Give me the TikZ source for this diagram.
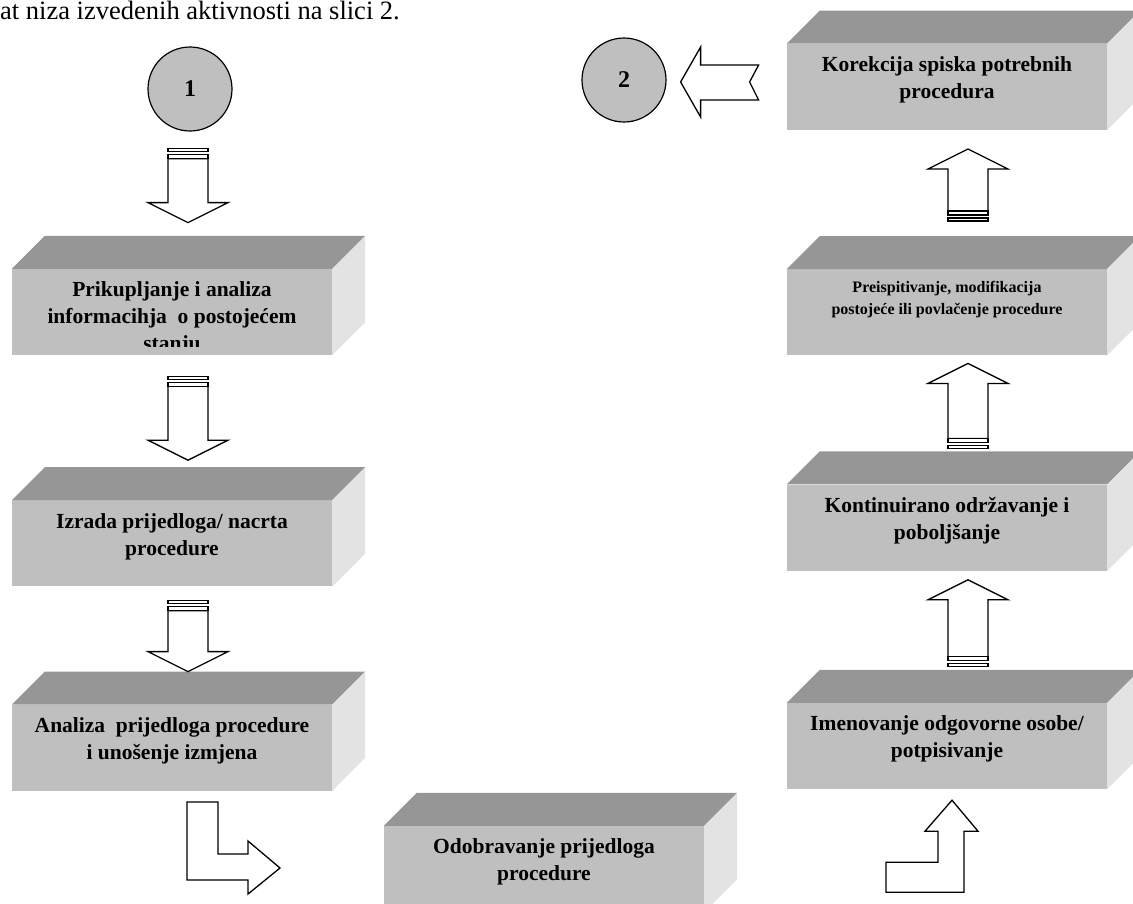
\documentclass[tikz,border=0pt]{standalone}
\usepackage{fontspec}
\setmainfont{Liberation Serif}
\usetikzlibrary{positioning,calc}

\tikzset{
  procbox/.style={rectangle, fill=black!25, minimum width=320pt, minimum height=86pt, inner sep=0pt},
  boxtext/.style={font=\fontsize{21.5}{27}\selectfont\bfseries, align=center, inner sep=0pt},
  smalltext/.style={font=\fontsize{16}{22}\selectfont\bfseries, align=center, inner sep=0pt},
  topface/.style={fill=black!41},
  sideface/.style={fill=black!11},
  stepcircle/.style={circle, draw=black, line width=1.2pt, fill=black!25, minimum size=84pt, inner sep=0pt, font=\fontsize{24}{28}\selectfont\bfseries},
  blockarrow/.style={draw=black, line width=1.3pt, fill=white},
  pics/dnarrow/.style={code={
    \draw[blockarrow] (0,0) -- (-40,-20) -- (-20,-20) -- (-20,{-#1+10}) -- (20,{-#1+10}) -- (20,-20) -- (40,-20) -- cycle;
    \draw[blockarrow] (-20,{-#1}) rectangle (20,{-#1+3});
    \draw[blockarrow] (-20,{-#1+6}) rectangle (20,{-#1+10});
  }},
  pics/bentright/.style={code={
    \draw[blockarrow] (0,0) -- (31,0) -- (31,52) -- (61,52) -- (61,39) -- (93,66) -- (61,92) -- (61,78) -- (0,78) -- cycle;
  }},
  pics/bentup/.style={code={
    \draw[blockarrow] (0,0) -- (26,31) -- (12,31) -- (12,92) -- (-66,92) -- (-66,62) -- (-14,62) -- (-14,31) -- (-27,31) -- cycle;
  }},
  pics/notchleft/.style={code={
    \draw[blockarrow] (0,0) -- (20,-35) -- (20,-17) -- (78,-17) -- (69,0) -- (78,18) -- (20,18) -- (20,35) -- cycle;
  }},
}

% top and right faces of a box
\newcommand{\boxfaces}[1]{%
  \fill[topface] (#1.north west) -- ++(33,-33) -- ($(#1.north east)+(33,-33)$) -- (#1.north east) -- cycle;
  \fill[sideface] (#1.north east) -- ++(33,-33) -- ($(#1.south east)+(33,-33)$) -- (#1.south east) -- cycle;}

\begin{document}
\begin{tikzpicture}[x=1pt, y=-1pt]
  \useasboundingbox (0,0) rectangle (1133,903);
  \clip (0,0) rectangle (1133,903);

  \node (cap) [anchor=base west, inner sep=0pt, font=\fontsize{26.5}{30}\selectfont] at (0,19) {at niza izvedenih aktivnosti na slici 2.};

  \node (c1) [stepcircle] at (190,89) {1};
  \node (c2) [stepcircle] at (624,80) {2};

  % left column
  \node (b1) [procbox] at (172,312) {};
  \node (b2) [procbox, below=145pt of b1] {};
  \node (b3) [procbox, below=118pt of b2] {};
  \node (odo) [procbox] at (544,869) {};
  % right column
  \node (im) [procbox] at (947,746) {};
  \node (kn) [procbox, above=132pt of im] {};
  \node (pr) [procbox, above=129pt of kn] {};
  \node (ko) [procbox, above=139pt of pr] {};

  \foreach \b in {b1,b2,b3,odo,im,kn,pr,ko} {\boxfaces{\b}}

  \begin{scope}
    \clip (b1.north west) rectangle ($(b1.south east)+(0,-9)$);
    \node (t1) [boxtext, below=13pt of b1.north] {Prikupljanje i analiza\\informacihja\ \ o postojećem\\stanju};
  \end{scope}
  \node (t2) [boxtext, below=13pt of b2.north] {Izrada prijedloga/ nacrta\\procedure};
  \node (t3) [boxtext, below=13pt of b3.north] {Analiza\ \ prijedloga procedure\\i unošenje izmjena};
  \node (t4) [boxtext, below=13pt of odo.north] {Odobravanje prijedloga\\procedure};
  \node (t5) [boxtext, below=13pt of im.north] {Imenovanje odgovorne osobe/\\potpisivanje};
  \node (t6) [boxtext, below=13pt of kn.north] {Kontinuirano održavanje i\\poboljšanje};
  \node (t7) [smalltext, below=12pt of pr.north] {Preispitivanje, modifikacija\\postojeće ili povlačenje procedure};
  \node (t8) [boxtext, below=13pt of ko.north] {Korekcija spiska potrebnih\\procedura};

  % arrows
  \pic at ($(c1.south)+(-2,91)$) {dnarrow=74};
  \pic at ($(b1.south)+(16,105)$) {dnarrow=84};
  \pic at ($(b2.south)+(16,85)$) {dnarrow=71};
  \pic at ($(b3.south)+(15,11)$) {bentright};
  \pic at ($(im.south)+(5,11)$) {bentup};
  \pic[rotate=180] at ($(kn.south)+(21,9)$) {dnarrow=87};
  \pic[rotate=180] at ($(pr.south)+(21,8)$) {dnarrow=85};
  \pic[rotate=180] at ($(ko.south)+(21,19)$) {dnarrow=72};
  \pic at ($(c2.east)+(14,2)$) {notchleft};
\end{tikzpicture}
\end{document}
